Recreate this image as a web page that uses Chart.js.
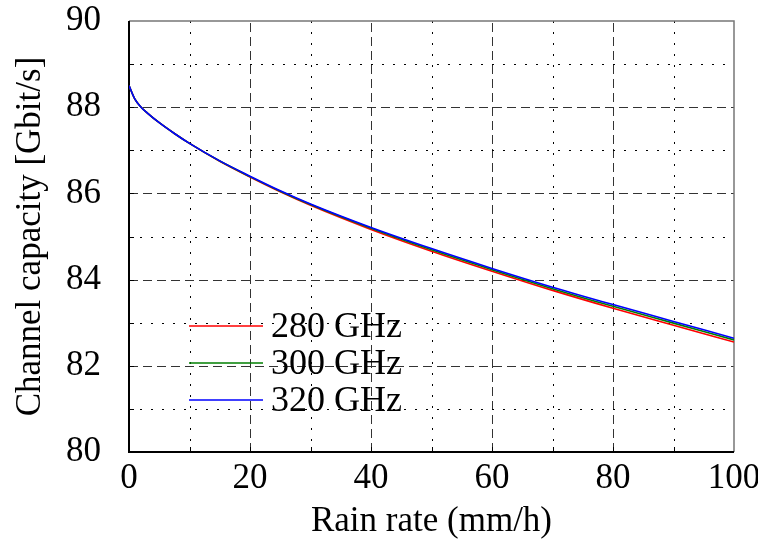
<!DOCTYPE html>
<html>
<head>
<meta charset="utf-8">
<script src="https://cdn.jsdelivr.net/npm/chart.js@4.4.1/dist/chart.umd.min.js"></script>
<style>
  html, body { margin: 0; padding: 0; background: #fff; }
  #wrap { width: 758px; height: 544px; }
</style>
</head>
<body>
<div id="wrap"><canvas id="rain-chart"></canvas></div>
<script>
const rain_rate = [0, 1, 2, 3, 5, 7.5, 10, 15, 20, 25, 30, 40, 50, 60, 70, 80, 90, 100]
const cap_280 = [88.5, 88.18, 88.0, 87.87, 87.64, 87.39, 87.16, 86.745, 86.38, 86.038, 85.725, 85.165, 84.66, 84.195, 83.75, 83.335, 82.94, 82.55]
const cap_300 = [88.5, 88.18, 88.0, 87.87, 87.64, 87.39, 87.16, 86.75, 86.39, 86.05, 85.74, 85.19, 84.69, 84.23, 83.79, 83.38, 82.99, 82.6]
const cap_320 = [88.5, 88.18, 88.0, 87.87, 87.64, 87.39, 87.16, 86.755, 86.4, 86.062, 85.755, 85.21, 84.72, 84.26, 83.825, 83.42, 83.03, 82.64]
const series_labels = ['280 GHz', '300 GHz', '320 GHz']
const series_colors = ['#ff0000', '#007f00', '#0000ff']

const serif = '"Liberation Serif", "Times New Roman", serif'

const toPoints = ys => rain_rate.map((x, i) => ({ x: x, y: ys[i] }))

// grid: dashed majors, dotted minors, plus frame and inner ticks
const gridPlugin = {
  id: 'paperGrid',
  beforeDatasetsDraw(chart) {
    const { ctx, chartArea: a, scales: { x, y } } = chart
    ctx.save()
    ctx.lineWidth = 1
    for (let v = 10; v < 100; v += 10) {
      const px = Math.round(x.getPixelForValue(v)) + 0.5
      ctx.beginPath()
      if (v % 20 === 0) {
        ctx.strokeStyle = '#333'
        ctx.setLineDash([9, 5])
      } else {
        ctx.strokeStyle = '#000'
        ctx.setLineDash([2, 9])
      }
      ctx.moveTo(px, a.bottom)
      ctx.lineTo(px, a.top)
      ctx.stroke()
    }
    for (let v = 81; v < 90; v += 1) {
      const py = Math.round(y.getPixelForValue(v)) + 0.5
      ctx.beginPath()
      if (v % 2 === 0) {
        ctx.strokeStyle = '#333'
        ctx.setLineDash([9, 5])
      } else {
        ctx.strokeStyle = '#000'
        ctx.setLineDash([2, 9])
      }
      ctx.moveTo(a.left, py)
      ctx.lineTo(a.right, py)
      ctx.stroke()
    }
    ctx.setLineDash([])
    ctx.strokeStyle = '#000'
    for (let v = 10; v < 100; v += 10) {
      const px = Math.round(x.getPixelForValue(v)) + 0.5
      ctx.beginPath()
      ctx.moveTo(px, a.bottom)
      ctx.lineTo(px, a.bottom - 5)
      ctx.stroke()
    }
    for (let v = 81; v < 90; v += 1) {
      const py = Math.round(y.getPixelForValue(v)) + 0.5
      ctx.beginPath()
      ctx.moveTo(a.left, py)
      ctx.lineTo(a.left + 5, py)
      ctx.stroke()
    }
    ctx.strokeStyle = '#777'
    ctx.lineWidth = 1.5
    ctx.beginPath()
    ctx.moveTo(a.left, a.top)
    ctx.lineTo(a.right, a.top)
    ctx.lineTo(a.right, a.bottom)
    ctx.stroke()
    ctx.strokeStyle = '#000'
    ctx.lineWidth = 2
    ctx.beginPath()
    ctx.moveTo(a.left, a.top)
    ctx.lineTo(a.left, a.bottom)
    ctx.lineTo(a.right, a.bottom)
    ctx.stroke()
    ctx.restore()
  }
}

// legend sitting inside the plot, no box
const legendPlugin = {
  id: 'insideLegend',
  afterDatasetsDraw(chart) {
    const { ctx, chartArea: a } = chart
    ctx.save()
    ctx.font = '36px ' + serif
    ctx.textBaseline = 'middle'
    ctx.textAlign = 'left'
    chart.data.datasets.forEach((ds, i) => {
      const yy = a.top + 305 + i * 37
      ctx.strokeStyle = ds.borderColor
      ctx.lineWidth = 1.5
      ctx.beginPath()
      ctx.moveTo(a.left + 60, yy)
      ctx.lineTo(a.left + 134, yy)
      ctx.stroke()
      ctx.fillStyle = '#000'
      ctx.fillText(ds.label, a.left + 142, yy + 2)
    })
    ctx.restore()
  }
}

// drop the label overhang so the layout padding alone sets the plot box
const noOverhang = s => {
  s.paddingTop = 0
  s.paddingBottom = 0
  s.paddingLeft = 0
  s.paddingRight = 0
}

new Chart(document.getElementById('rain-chart'), {
  type: 'line',
  data: {
    datasets: series_labels.map((lab, i) => ({
      label: lab,
      data: toPoints([cap_280, cap_300, cap_320][i]),
      borderColor: series_colors[i],
      borderWidth: 1.6,
      pointRadius: 0,
      fill: false,
      order: 2 - i,
      cubicInterpolationMode: 'monotone',
    }))
  },
  options: {
    responsive: true,
    maintainAspectRatio: false,
    animation: false,
    layout: { padding: { left: 0, right: 24, top: 21, bottom: 0 } },
    plugins: { legend: { display: false }, tooltip: { enabled: false } },
    scales: {
      x: {
        type: 'linear',
        min: 0,
        max: 100,
        afterFit: s => { s.height = 92; noOverhang(s) },
        grid: { display: false, drawTicks: false },
        border: { display: false },
        ticks: { stepSize: 20, padding: 6, color: '#000', font: { family: serif, size: 35 } },
        title: { display: true, text: 'Rain rate (mm/h)', color: '#000', padding: { top: 0, bottom: 1 }, font: { family: serif, size: 35 } }
      },
      y: {
        min: 80,
        max: 90,
        afterFit: s => { s.width = 129; noOverhang(s) },
        grid: { display: false, drawTicks: false },
        border: { display: false },
        ticks: { stepSize: 2, padding: 28, color: '#000', font: { family: serif, size: 35 } },
        title: { display: true, text: 'Channel capacity [Gbit/s]', color: '#000', padding: { top: 10, bottom: 0 }, font: { family: serif, size: 35 } }
      }
    }
  },
  plugins: [gridPlugin, legendPlugin]
});
</script>
</body>
</html>
